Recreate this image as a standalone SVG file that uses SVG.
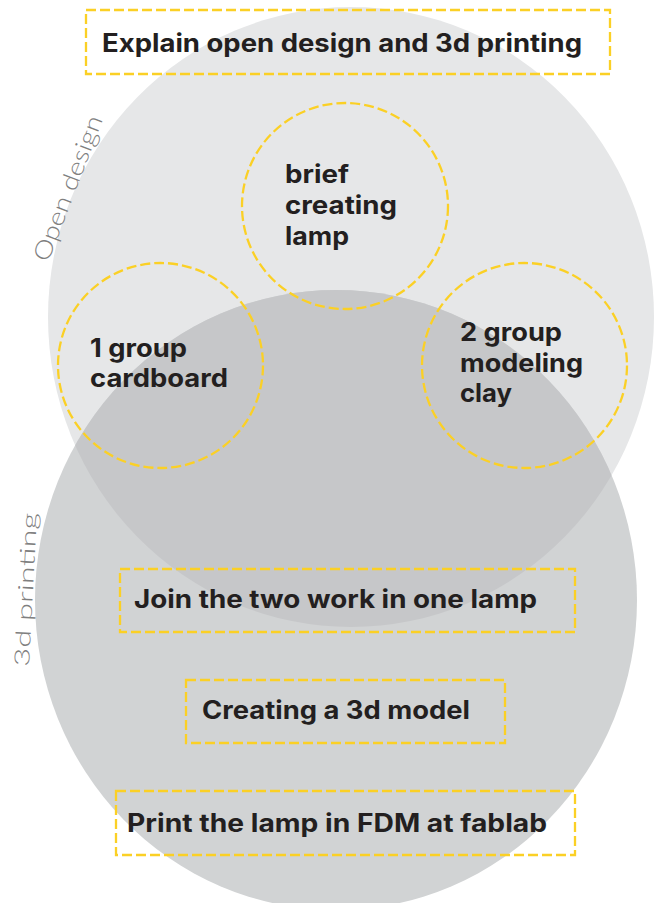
<svg xmlns="http://www.w3.org/2000/svg" width="659" height="903" viewBox="0 0 659 903">
  <defs>
    <style>
      .dash { fill: none; stroke: #fbd025; stroke-width: 2.3; stroke-dasharray: 10 4; }
      .lbl { font-family: Inter, "Liberation Sans", sans-serif; font-weight: 700; font-size: 25px; fill: #231f20; }
      .set { font-family: Lato, "Open Sans", "Liberation Sans", sans-serif; font-weight: 300; fill: #7f7f7f; }
    </style>
    <clipPath id="clipTop">
      <ellipse cx="351" cy="317" rx="303" ry="310"/>
    </clipPath>
  </defs>
  <rect width="659" height="903" fill="#ffffff"/>

  <g id="set-open-design">
    <ellipse cx="351" cy="317" rx="303" ry="310" fill="#e6e7e8"/>
    <text class="set" font-size="24" transform="translate(48,263) rotate(-69)" textLength="154" lengthAdjust="spacingAndGlyphs">Open design</text>
  </g>
  <g id="set-3d-printing">
    <ellipse cx="336" cy="600" rx="301" ry="310" fill="#d1d3d4"/>
    <ellipse cx="336" cy="600" rx="301" ry="310" fill="#c6c7c9" clip-path="url(#clipTop)"/>
    <text class="set" font-size="21" transform="translate(29,667) rotate(-87)" textLength="154" lengthAdjust="spacingAndGlyphs">3d printing</text>
  </g>

  <g id="connectors"/>

  <g id="explain">
    <rect class="dash" x="86" y="10" width="524" height="64"/>
    <text class="lbl" x="102" y="52" textLength="480" lengthAdjust="spacingAndGlyphs">Explain open design and 3d printing</text>
  </g>

  <g id="brief">
    <circle class="dash" cx="345" cy="206" r="103"/>
    <text class="lbl" x="285" y="183" textLength="64" lengthAdjust="spacingAndGlyphs">brief</text>
    <text class="lbl" x="285" y="214" textLength="112" lengthAdjust="spacingAndGlyphs">creating</text>
    <text class="lbl" x="285" y="245" textLength="64" lengthAdjust="spacingAndGlyphs">lamp</text>
  </g>

  <g id="group1">
    <circle class="dash" cx="160.5" cy="365.5" r="102.5"/>
    <text class="lbl" x="90" y="357" textLength="97" lengthAdjust="spacingAndGlyphs">1 group</text>
    <text class="lbl" x="90" y="387" textLength="138" lengthAdjust="spacingAndGlyphs">cardboard</text>
  </g>

  <g id="group2">
    <circle class="dash" cx="524.5" cy="365.5" r="102.5"/>
    <text class="lbl" x="460" y="341" textLength="102" lengthAdjust="spacingAndGlyphs">2 group</text>
    <text class="lbl" x="460" y="372" textLength="123" lengthAdjust="spacingAndGlyphs">modeling</text>
    <text class="lbl" x="460" y="402" textLength="52" lengthAdjust="spacingAndGlyphs">clay</text>
  </g>

  <g id="join">
    <rect class="dash" x="120" y="569" width="455" height="63"/>
    <text class="lbl" x="134" y="608" textLength="403" lengthAdjust="spacingAndGlyphs">Join the two work in one lamp</text>
  </g>

  <g id="model">
    <rect class="dash" x="186" y="680" width="319" height="63"/>
    <text class="lbl" x="202" y="719" textLength="268" lengthAdjust="spacingAndGlyphs">Creating a 3d model</text>
  </g>

  <g id="print">
    <rect class="dash" x="116" y="791" width="459" height="64"/>
    <text class="lbl" x="127" y="832" textLength="420" lengthAdjust="spacingAndGlyphs">Print the lamp in FDM at fablab</text>
  </g>
</svg>
